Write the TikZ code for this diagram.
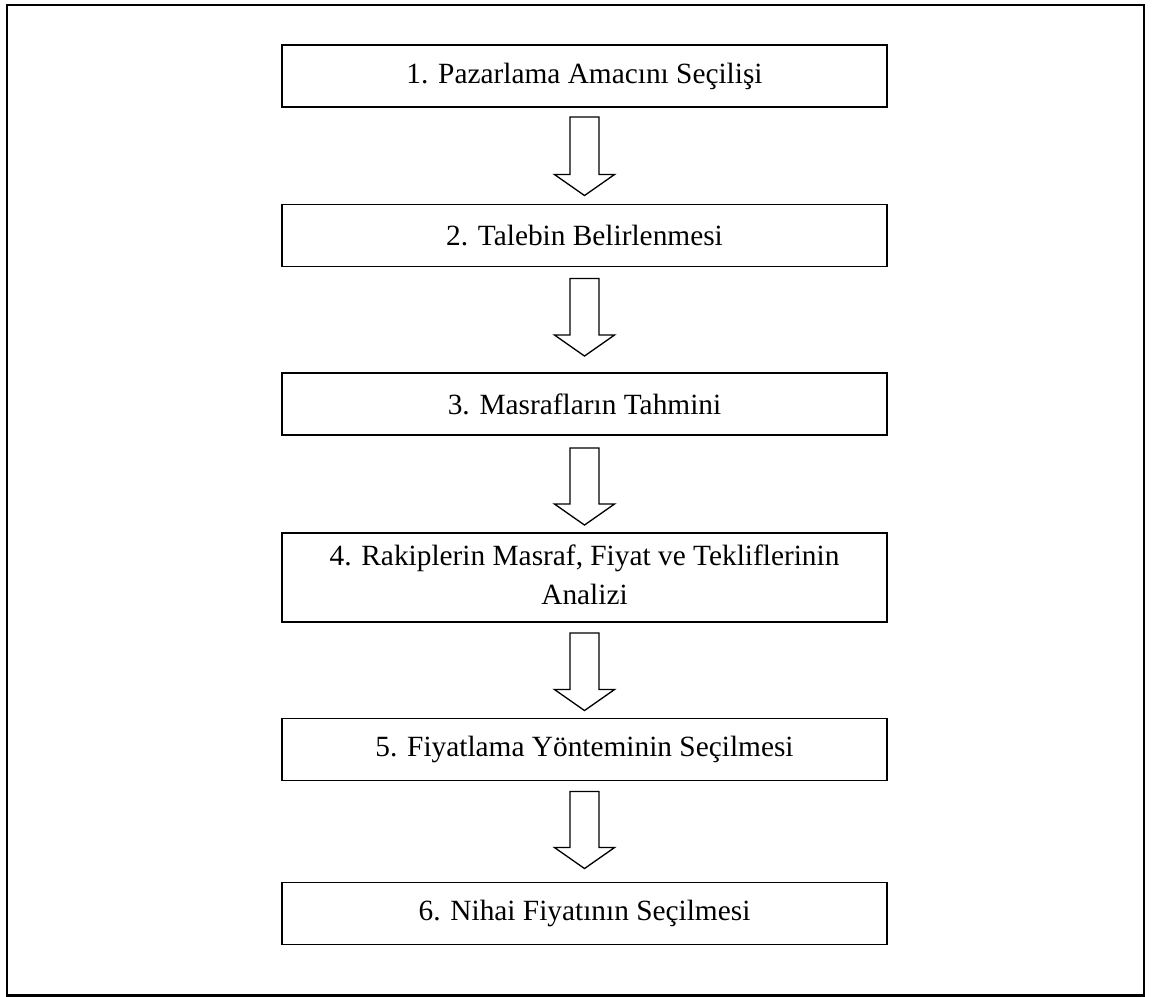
\documentclass[tikz,border=0pt]{standalone}
\usepackage{fontspec}
\setmainfont{Liberation Serif}
\usetikzlibrary{positioning, calc}

\tikzset{
  stepbox/.style={draw, line width=1.1pt, minimum width=12.1cm, minimum height=1.24cm,
    inner sep=0pt, align=center, font=\fontsize{16.7}{22.2}\selectfont},
  blockarrow/.style={line width=0.75pt, to path={
    let \p1=(\tikztostart), \p2=(\tikztotarget) in
    (\x1-0.29cm,\y1) -- (\x1-0.29cm,\y2+0.42cm) -- (\x1-0.6cm,\y2+0.42cm) -- (\x1,\y2)
    -- (\x1+0.6cm,\y2+0.42cm) -- (\x1+0.29cm,\y2+0.42cm) -- (\x1+0.29cm,\y1) -- cycle}}
}

\begin{document}
\begin{tikzpicture}
  \useasboundingbox (0,0) rectangle (23.14,-19.94);
  \draw[line width=1.4pt] (0.14,-0.1) rectangle (22.88,-19.91);

  \node[stepbox] (pazarlama) at (11.69,-1.52) {1. Pazarlama Amacını Seçilişi};
  \node[stepbox] (talep) at (11.69,-4.71) {2. Talebin Belirlenmesi};
  \node[stepbox] (masraf) at (11.69,-8.08) {3. Masrafların Tahmini};
  \node[stepbox, minimum height=1.78cm, text depth=0.1cm] (rakip) at (11.69,-11.55)
    {4. Rakiplerin Masraf, Fiyat ve Tekliflerinin\\Analizi};
  \node[stepbox] (yontem) at (11.69,-14.99) {5. Fiyatlama Yönteminin Seçilmesi};
  \node[stepbox] (nihai) at (11.69,-18.27) {6. Nihai Fiyatının Seçilmesi};

  \draw[blockarrow] ($(pazarlama.south)+(0,-0.18)$) to ($(talep.north)+(0,0.16)$);
  \draw[blockarrow] ($(talep.south)+(0,-0.22)$) to ($(masraf.north)+(0,0.32)$);
  \draw[blockarrow] ($(masraf.south)+(0,-0.24)$) to ($(rakip.north)+(0,0.14)$);
  \draw[blockarrow] ($(rakip.south)+(0,-0.2)$) to ($(yontem.north)+(0,0.14)$);
  \draw[blockarrow] ($(yontem.south)+(0,-0.2)$) to ($(nihai.north)+(0,0.26)$);
\end{tikzpicture}
\end{document}
